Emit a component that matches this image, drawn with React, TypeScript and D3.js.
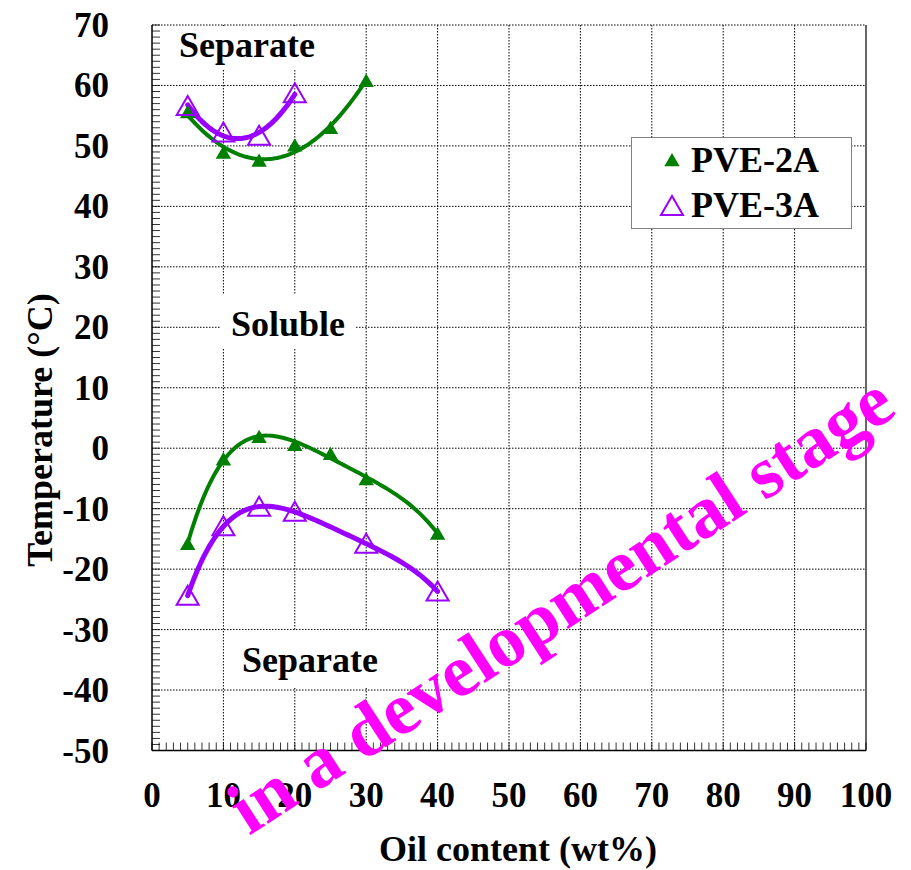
import React from "react";
import * as d3 from "d3";

// Oil content (wt%) and measured two-phase separation temperatures (°C)
const pve2aUpperX = [5, 10, 15, 20, 25, 30];
const pve2aUpperY = [55.6, 48.9, 47.6, 50.1, 53.0, 60.8];
const pve2aLowerX = [5, 10, 15, 20, 25, 30, 40];
const pve2aLowerY = [-15.8, -1.8, 1.9, 0.6, -0.9, -5.1, -14.1];
const pve3aUpperX = [5, 10, 15, 20];
const pve3aUpperY = [56.6, 52.2, 51.7, 58.7];
const pve3aLowerX = [5, 10, 15, 20, 30, 40];
const pve3aLowerY = [-24.4, -12.9, -9.7, -10.5, -15.8, -23.7];

const xTicks = [0, 10, 20, 30, 40, 50, 60, 70, 80, 90, 100];
const yTicks = [70, 60, 50, 40, 30, 20, 10, 0, -10, -20, -30, -40, -50];
const seriesNames = ["PVE-2A", "PVE-3A"];

const W = 911;
const H = 870;
const GREEN = "#008000";
const PURPLE = "#9900ff";

// Least-squares polynomial trend line
function polyFit(xs: number[], ys: number[], order: number): number[] {
  const n = order + 1;
  const A: number[][] = Array.from({ length: n }, () => new Array(n + 1).fill(0));
  for (let r = 0; r < n; r++) {
    for (let c = 0; c < n; c++) {
      A[r][c] = d3.sum(xs, (x) => Math.pow(x, r + c));
    }
    A[r][n] = d3.sum(xs, (x, i) => ys[i] * Math.pow(x, r));
  }
  for (let i = 0; i < n; i++) {
    let p = i;
    for (let k = i + 1; k < n; k++) if (Math.abs(A[k][i]) > Math.abs(A[p][i])) p = k;
    [A[i], A[p]] = [A[p], A[i]];
    for (let k = i + 1; k < n; k++) {
      const f = A[k][i] / A[i][i];
      for (let j = i; j <= n; j++) A[k][j] -= f * A[i][j];
    }
  }
  const coef = new Array(n).fill(0);
  for (let i = n - 1; i >= 0; i--) {
    let s = A[i][n];
    for (let j = i + 1; j < n; j++) s -= A[i][j] * coef[j];
    coef[i] = s / A[i][i];
  }
  return coef;
}

function trend(xs: number[], ys: number[], order: number): [number, number][] {
  const c = polyFit(xs, ys, order);
  const x0 = d3.min(xs)!;
  const x1 = d3.max(xs)!;
  const pts: [number, number][] = [];
  for (let i = 0; i <= 80; i++) {
    const x = x0 + ((x1 - x0) * i) / 80;
    pts.push([x, c.reduce((s, v, k) => s + v * Math.pow(x, k), 0)]);
  }
  return pts;
}

function T(props: React.SVGProps<SVGTextElement> & { children: React.ReactNode }) {
  const { style, ...rest } = props;
  return (
    <text {...rest} style={{ fontFamily: '"Liberation Serif"', fontWeight: 700, ...(style || {}) }} />
  );
}

export default function App() {
  const x = d3.scaleLinear().domain([0, 100]).range([152, 866]);
  const y = d3.scaleLinear().domain([-50, 70]).range([750.5, 25]);
  const line = d3
    .line<[number, number]>()
    .x((d) => x(d[0]))
    .y((d) => y(d[1]));

  const filledTri = (cx: number, cy: number, s: number) =>
    `M${cx},${cy - s * 0.5}L${cx + s * 0.55},${cy + s * 0.45}L${cx - s * 0.55},${cy + s * 0.45}Z`;

  const minorX = d3.range(0, 101, 1);
  const minorY = d3.range(-50, 71, 1);

  return (
    <svg width={W} height={H} style={{ position: "absolute", left: 0, top: 0 }}>
      <rect width={W} height={H} fill="#fff" />
      {/* grid */}
      {xTicks.slice(1, -1).map((t) => (
        <line key={"gx" + t} x1={x(t)} x2={x(t)} y1={y(70)} y2={y(-50)} stroke="#000" strokeWidth={1} strokeDasharray="1.5 1.5" />
      ))}
      {yTicks.slice(0, -1).map((t) => (
        <line key={"gy" + t} x1={x(0)} x2={x(100)} y1={y(t)} y2={y(t)} stroke="#000" strokeWidth={1} strokeDasharray="1.5 1.5" />
      ))}
      {/* minor ticks */}
      {minorX.map((t) => (
        <line key={"mx" + t} x1={x(t)} x2={x(t)} y1={y(-50)} y2={y(-50) - 8} stroke="#000" strokeWidth={0.8} />
      ))}
      {minorY.map((t) => (
        <line key={"my" + t} x1={x(0)} x2={x(0) + 8} y1={y(t)} y2={y(t)} stroke="#000" strokeWidth={0.8} />
      ))}
      {/* axes frame */}
      <line x1={x(0)} x2={x(0)} y1={y(70)} y2={y(-50)} stroke="#000" strokeWidth={1.5} />
      <line x1={x(0)} x2={x(100)} y1={y(-50)} y2={y(-50)} stroke="#000" strokeWidth={1.5} />
      <line x1={x(100)} x2={x(100)} y1={y(70)} y2={y(-50)} stroke="#000" strokeWidth={1.2} />

      {/* region labels */}
      <rect x={168} y={26} width={157} height={44} fill="#fff" />
      <T x={247} y={57} textAnchor="middle" fontSize={36}>Separate</T>
      <rect x={220} y={295} width={135} height={53} fill="#fff" />
      <T x={288} y={336} textAnchor="middle" fontSize={36}>Soluble</T>
      <rect x={232} y={630} width={158} height={58} fill="#fff" />
      <T x={310} y={672} textAnchor="middle" fontSize={36}>Separate</T>

      {/* trend lines */}
      <path d={line(trend(pve2aUpperX, pve2aUpperY, 2)) ?? ""} fill="none" stroke={GREEN} strokeWidth={4} />
      <path d={line(trend(pve2aLowerX, pve2aLowerY, 4)) ?? ""} fill="none" stroke={GREEN} strokeWidth={4} />
      <path d={line(trend(pve3aUpperX, pve3aUpperY, 2)) ?? ""} fill="none" stroke={PURPLE} strokeWidth={5} strokeLinecap="round" />
      <path d={line(trend(pve3aLowerX, pve3aLowerY, 4)) ?? ""} fill="none" stroke={PURPLE} strokeWidth={5} strokeLinecap="round" />

      {/* markers */}
      {pve2aUpperX.map((v, i) => (
        <path key={"g1" + i} d={filledTri(x(v), y(pve2aUpperY[i]), 14)} fill={GREEN} />
      ))}
      {pve2aLowerX.map((v, i) => (
        <path key={"g2" + i} d={filledTri(x(v), y(pve2aLowerY[i]), 14)} fill={GREEN} />
      ))}
      {pve3aUpperX.map((v, i) => (
        <path key={"p1" + i} d={filledTri(x(v), y(pve3aUpperY[i]), 20)} fill="none" stroke={PURPLE} strokeWidth={2} />
      ))}
      {pve3aLowerX.map((v, i) => (
        <path key={"p2" + i} d={filledTri(x(v), y(pve3aLowerY[i]), 20)} fill="none" stroke={PURPLE} strokeWidth={2} />
      ))}

      {/* tick labels */}
      {xTicks.map((t) => (
        <T key={"xl" + t} x={x(t)} y={807} textAnchor="middle" fontSize={35}>{t}</T>
      ))}
      {yTicks.map((t) => (
        <T key={"yl" + t} x={109} y={y(t) + 12} textAnchor="end" fontSize={35}>{t}</T>
      ))}

      {/* axis titles */}
      <T x={518} y={861} textAnchor="middle" fontSize={36}>Oil content (wt%)</T>
      <T transform="translate(52,430) rotate(-90)" textAnchor="middle" fontSize={36}>Temperature (°C)</T>

      {/* legend */}
      <rect x={631.5} y={137.5} width={220} height={91} fill="#fff" stroke="#808080" strokeWidth={1} />
      <path d={filledTri(672, 160, 14)} fill={GREEN} />
      <T x={691} y={172} fontSize={36}>{seriesNames[0]}</T>
      <path d={filledTri(672, 206, 20)} fill="none" stroke={PURPLE} strokeWidth={2} />
      <T x={691} y={217} fontSize={36}>{seriesNames[1]}</T>

      {/* watermark */}
      <T transform="translate(249,836) rotate(-33)" fontSize={74} fill="#ff00ff">in a developmental stage</T>
    </svg>
  );
}
